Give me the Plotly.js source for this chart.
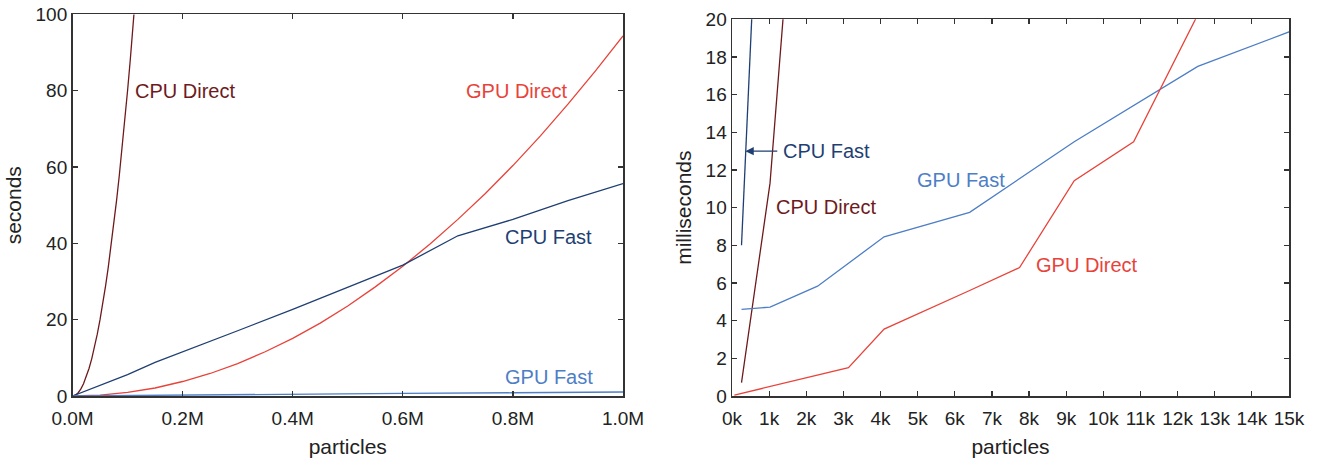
<!DOCTYPE html>
<html>
<head>
<meta charset="utf-8">
<script src="https://cdn.plot.ly/plotly-3.0.1.min.js"></script>
<style>html,body{margin:0;padding:0;background:#fff;}#chart{width:1319px;height:460px;}</style>
</head>
<body>
<div id="chart"></div>
<script>
// ---- Left panel: seconds vs particles (millions) ----
var leftCpuDirectX = [0, 0.005, 0.01, 0.015, 0.02, 0.025, 0.03, 0.035, 0.04, 0.045, 0.05, 0.055, 0.06, 0.065, 0.07, 0.075, 0.08, 0.085, 0.09, 0.095, 0.10, 0.105, 0.11, 0.115, 0.12];
var leftCpuDirectY = [0, 0.2, 0.8, 1.8, 3.2, 5.0, 7.2, 9.8, 12.8, 16.2, 20, 24.2, 28.8, 33.8, 39.2, 45.0, 51.2, 57.8, 64.8, 72.2, 80, 88.2, 96.8, 105.8, 115.2];

var leftGpuDirectX = [0, 0.05, 0.1, 0.15, 0.2, 0.25, 0.3, 0.35, 0.4, 0.45, 0.5, 0.55, 0.6, 0.65, 0.7, 0.75, 0.8, 0.85, 0.9, 0.95, 1.0];
var leftGpuDirectY = [0, 0.24, 0.94, 2.1, 3.8, 5.9, 8.5, 11.6, 15.1, 19.1, 23.6, 28.6, 34.0, 39.9, 46.3, 53.1, 60.4, 68.2, 76.5, 85.2, 94.4];

var leftCpuFastX = [0, 0.05, 0.1, 0.15, 0.2, 0.3, 0.4, 0.5, 0.6, 0.7, 0.8, 0.9, 1.0];
var leftCpuFastY = [0, 2.8, 5.6, 8.8, 11.5, 17.1, 22.7, 28.5, 34.3, 42.0, 46.3, 51.2, 55.7];

var leftGpuFastX = [0, 0.2, 0.4, 0.6, 0.8, 1.0];
var leftGpuFastY = [0, 0.3, 0.5, 0.7, 0.85, 1.05];

var leftXTickVals = [0, 0.2, 0.4, 0.6, 0.8, 1.0];
var leftXTickText = ["0.0M", "0.2M", "0.4M", "0.6M", "0.8M", "1.0M"];
var leftYTickVals = [0, 20, 40, 60, 80, 100];

// ---- Right panel: milliseconds vs particles (thousands) ----
var rightCpuFastX = [0.256, 1.024];
var rightCpuFastY = [8.0, 41.6];

var rightCpuDirectX = [0.256, 1.024, 2.304];
var rightCpuDirectY = [0.71, 11.3, 43.2];

var rightGpuFastX = [0.256, 1.024, 2.304, 4.096, 6.4, 9.216, 12.544, 16.384];
var rightGpuFastY = [4.6, 4.72, 5.83, 8.45, 9.75, 13.5, 17.5, 20.36];

var rightGpuDirectX = [0.064, 1.024, 2.304, 3.136, 4.096, 5.184, 6.4, 7.744, 9.216, 10.816, 12.544, 14.4];
var rightGpuDirectY = [0.05, 0.5, 1.08, 1.5, 3.55, 4.5, 5.6, 6.82, 11.43, 13.5, 20.13, 27.5];

var rightXTickVals = [0,1,2,3,4,5,6,7,8,9,10,11,12,13,14,15];
var rightXTickText = ["0k","1k","2k","3k","4k","5k","6k","7k","8k","9k","10k","11k","12k","13k","14k","15k"];
var rightYTickVals = [0,2,4,6,8,10,12,14,16,18,20];

var cMaroon = "#6e1a1c";
var cRed = "#e8433a";
var cNavy = "#1f3f73";
var cLight = "#4d7ec6";
var FONT = "Liberation Sans, Arial, Helvetica, sans-serif";

function tr(x, y, color, xa, ya) {
  return {x: x, y: y, xaxis: xa, yaxis: ya, type: "scatter", mode: "lines",
          line: {color: color, width: 1.3}, hoverinfo: "skip", showlegend: false};
}

var data = [
  tr(leftCpuDirectX, leftCpuDirectY, cMaroon, "x", "y"),
  tr(leftGpuDirectX, leftGpuDirectY, cRed, "x", "y"),
  tr(leftCpuFastX, leftCpuFastY, cNavy, "x", "y"),
  tr(leftGpuFastX, leftGpuFastY, cLight, "x", "y"),
  tr(rightCpuFastX, rightCpuFastY, cNavy, "x2", "y2"),
  tr(rightCpuDirectX, rightCpuDirectY, cMaroon, "x2", "y2"),
  tr(rightGpuFastX, rightGpuFastY, cLight, "x2", "y2"),
  tr(rightGpuDirectX, rightGpuDirectY, cRed, "x2", "y2")
];

function axis(extra) {
  var a = {
    showline: true, linecolor: "#333", linewidth: 1.5, mirror: "ticks",
    ticks: "inside", ticklen: 5, tickwidth: 1.2, tickcolor: "#333",
    showgrid: false, zeroline: false, fixedrange: true,
    tickfont: {family: FONT, size: 19, color: "#222"},
    tickmode: "array"
  };
  for (var k in extra) a[k] = extra[k];
  return a;
}

function lab(text, x, y, color, xr, yr) {
  return {text: text, x: x, y: y, xref: xr, yref: yr, xanchor: "left", yanchor: "middle",
          showarrow: false, font: {family: FONT, size: 20, color: color}};
}

var layout = {
  width: 1319, height: 460,
  margin: {l: 0, r: 0, t: 0, b: 0},
  paper_bgcolor: "#fff", plot_bgcolor: "#fff",
  showlegend: false,
  xaxis: axis({domain: [0.05497, 0.47233], range: [0, 1], anchor: "y",
               tickvals: leftXTickVals, ticktext: leftXTickText, ticklabelstandoff: 5,
               title: {text: "particles", font: {family: FONT, size: 21, color: "#222"}, standoff: 11}}),
  yaxis: axis({domain: [0.13913, 0.96848], range: [0, 100], anchor: "x",
               tickvals: leftYTickVals,
               title: {text: "seconds", font: {family: FONT, size: 21, color: "#222"}, standoff: 8}}),
  xaxis2: axis({domain: [0.55497, 0.97726], range: [0, 15], anchor: "y2",
                tickvals: rightXTickVals, ticktext: rightXTickText, ticklabelstandoff: 5,
                title: {text: "particles", font: {family: FONT, size: 21, color: "#222"}, standoff: 11}}),
  yaxis2: axis({domain: [0.13913, 0.95804], range: [0, 20], anchor: "x2",
                tickvals: rightYTickVals,
                title: {text: "milliseconds", font: {family: FONT, size: 21, color: "#222"}, standoff: 8}}),
  annotations: [
    lab("CPU Direct", 0.11, 80, cMaroon, "x", "y"),
    lab("GPU Direct", 0.711, 80, cRed, "x", "y"),
    lab("CPU Fast", 0.782, 41.7, cNavy, "x", "y"),
    lab("GPU Fast", 0.782, 5.06, cLight, "x", "y"),
    lab("CPU Fast", 1.32, 13, cNavy, "x2", "y2"),
    lab("CPU Direct", 1.138, 10.02, cMaroon, "x2", "y2"),
    lab("GPU Fast", 4.93, 11.48, cLight, "x2", "y2"),
    lab("GPU Direct", 8.13, 6.98, cRed, "x2", "y2"),
    {text: "", x: 0.36, y: 13, xref: "x2", yref: "y2", ax: 1.26, ay: 13, axref: "x2", ayref: "y2",
     showarrow: true, arrowhead: 2, arrowsize: 1.4, arrowwidth: 1.2, arrowcolor: cNavy, standoff: 0, startstandoff: 0}
  ]
};

Plotly.newPlot("chart", data, layout, {displayModeBar: false, staticPlot: true});
</script>
</body>
</html>
